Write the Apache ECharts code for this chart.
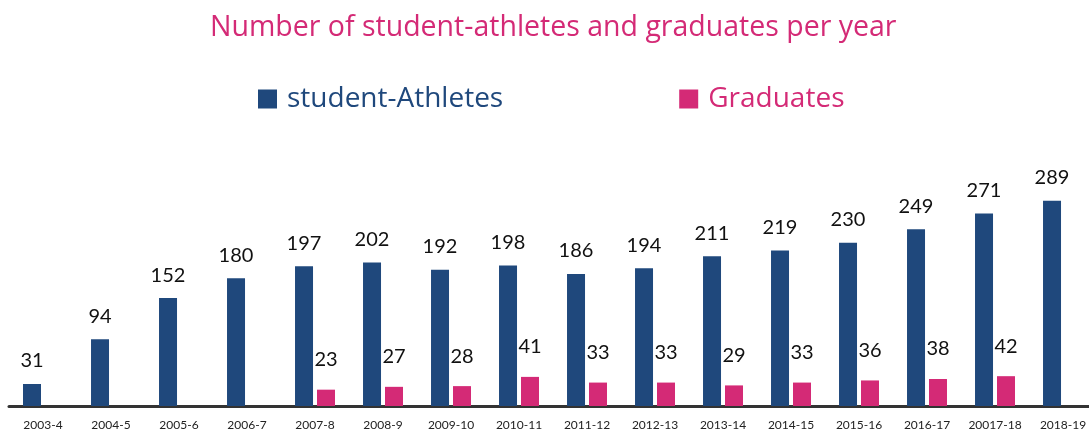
<!DOCTYPE html>
<html><head><meta charset="utf-8">
<script src="https://cdn.jsdelivr.net/npm/echarts@6/dist/echarts.min.js"></script>
<style>html,body{margin:0;padding:0;background:#fff}#c{width:1089px;height:432px}</style>
</head><body><div id="c"></div>
<script>
const categories = ['2003-4','2004-5','2005-6','2006-7','2007-8','2008-9','2009-10','2010-11','2011-12','2012-13','2013-14','2014-15','2015-16','2016-17','20017-18','2018-19'];
const athletes = [31,94,152,180,197,202,192,198,186,194,211,219,230,249,271,289];
const graduates = [null,null,null,null,23,27,28,41,33,33,29,33,36,38,42,null];
const BLUE = '#1f487c', PINK = '#d42a76';
const chart = echarts.init(document.getElementById('c'));
chart.setOption({
  animation: false,
  title: {text: 'Number of student-athletes and graduates per year', left: 205, top: 8,
    textStyle: {color: PINK, fontSize: 28.5, fontWeight: 'normal', fontFamily: 'Open Sans'}},
  legend: {top: 80, left: 253, itemWidth: 19, itemHeight: 19, itemGap: 176, icon: 'rect',
    textStyle: {fontSize: 28, fontFamily: 'Open Sans', padding: [0, 0, 0, 5]},
    data: [{name: 'student-Athletes', textStyle: {color: BLUE}}, {name: 'Graduates', textStyle: {color: PINK}}]},
  grid: {left: 9, width: 1088, top: 122, bottom: 26, outerBoundsMode: 'none'},
  xAxis: {type: 'category', data: categories,
    axisLine: {lineStyle: {color: '#333', width: 3}}, axisTick: {show: false},
    axisLabel: {color: '#222', fontSize: 12, margin: 13, interval: 0, fontFamily: 'Lato'}},
  yAxis: {type: 'value', min: 0, max: 400, show: false, splitLine: {show: false}},
  series: [
    {name: 'student-Athletes', type: 'bar', data: athletes, barWidth: 18, barGap: '22%',
      itemStyle: {color: BLUE},
      label: {show: true, position: 'top', distance: 13, color: '#111', fontSize: 20, fontFamily: 'Lato'}},
    {name: 'Graduates', type: 'bar', data: graduates, barWidth: 18,
      itemStyle: {color: PINK},
      label: {show: true, position: 'top', distance: 20, color: '#111', fontSize: 20, fontFamily: 'Lato'}}
  ]
});
</script></body></html>
